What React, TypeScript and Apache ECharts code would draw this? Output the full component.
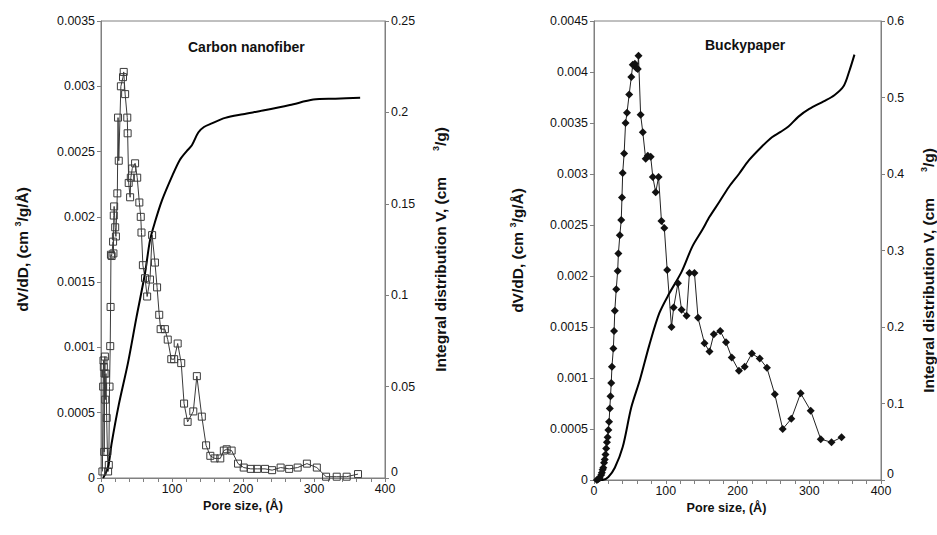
import React, { useEffect, useRef } from "react";
import * as echarts from "echarts";

// Carbon nanofiber: differential pore size distribution dV/dD (cm3/g/Å)
const cnfPore = [2, 3, 3.5, 4, 4.5, 5, 5.5, 6, 7, 8, 9, 10, 11, 12, 13, 13.5, 14, 15, 17, 17.5, 18, 18.5, 20, 21, 23, 24, 25, 28, 31, 32, 34, 37, 37.5, 39, 41, 42, 44, 48, 51, 54, 56, 57, 59, 62, 65, 69, 72, 76, 79, 82, 84, 90, 94, 99, 103, 108, 113, 117, 122, 130, 135, 142, 148, 154, 160, 168, 173, 177, 184, 193, 201, 211, 220, 231, 241, 253, 265, 277, 290, 304, 317, 332, 346, 362];
const cnfDvdd = [0.00005, 0.0007, 0.0009, 0.00085, 0.0002, 0.0008, 0.00093, 0.0006, 0.0008, 0.00046, 0.0002, 0.00005, 0.0001, 0.0007, 0.00101, 0.00131, 0.00171, 0.0017, 0.00181, 0.00172, 0.00201, 0.00208, 0.00192, 0.00185, 0.00218, 0.00276, 0.00243, 0.003, 0.00307, 0.00311, 0.00294, 0.00276, 0.00264, 0.00226, 0.00215, 0.0023, 0.00237, 0.00241, 0.0023, 0.00211, 0.002, 0.00188, 0.00163, 0.00153, 0.00139, 0.00152, 0.00186, 0.00165, 0.00146, 0.00125, 0.00114, 0.00114, 0.00106, 0.00091, 0.00091, 0.00103, 0.00088, 0.00057, 0.00043, 0.00051, 0.00078, 0.00047, 0.00025, 0.00017, 0.00015, 0.00015, 0.00021, 0.00022, 0.00021, 0.00011, 0.00008, 0.00007, 0.00007, 0.00007, 0.00006, 0.00008, 0.00007, 0.00008, 0.00011, 0.00008, 0.00001, 0.00001, 0.00001, 0.00003];
// Carbon nanofiber: integral distribution V (cm3/g)
const cnfIntPore = [3, 10, 15, 25, 38, 50, 62, 69, 76, 86, 100, 111, 121, 128, 137, 145, 156, 175, 200, 228, 266, 299, 330, 365];
const cnfIntV = [0, 0.006, 0.019, 0.04, 0.063, 0.088, 0.112, 0.13, 0.14, 0.152, 0.165, 0.174, 0.179, 0.182, 0.189, 0.192, 0.194, 0.197, 0.199, 0.201, 0.204, 0.207, 0.2075, 0.208];

// Buckypaper: differential pore size distribution dV/dD (cm3/g/Å)
const bpPore = [4, 6, 8, 10, 11, 12, 13, 14, 15, 16, 17, 18, 19, 20, 21, 22, 23, 24, 25, 27, 28, 29, 31, 33, 34, 36, 38, 39, 40, 42, 44, 46, 49, 52, 54, 57, 59, 61, 62, 65, 68, 72, 75, 79, 82, 86, 90, 94, 98, 102, 108, 111, 117, 122, 129, 133, 140, 145, 154, 161, 167, 176, 184, 192, 202, 210, 220, 231, 241, 252, 263, 275, 288, 302, 316, 331, 345];
const bpDvdd = [0, 0.00001, 0.00002, 0.00005, 0.00007, 0.0001, 0.00012, 0.00017, 0.0002, 0.00025, 0.00031, 0.00037, 0.00042, 0.00049, 0.00057, 0.0007, 0.00082, 0.00095, 0.00111, 0.00129, 0.00146, 0.00166, 0.00187, 0.00205, 0.00222, 0.0024, 0.00255, 0.00277, 0.00301, 0.0032, 0.0035, 0.0036, 0.00378, 0.00395, 0.00407, 0.00408, 0.00404, 0.00403, 0.00416, 0.00358, 0.00341, 0.00315, 0.00318, 0.00317, 0.00297, 0.00282, 0.00297, 0.00254, 0.00247, 0.00206, 0.0015, 0.00169, 0.00193, 0.00167, 0.00161, 0.00203, 0.00203, 0.00159, 0.00134, 0.00126, 0.00143, 0.00146, 0.00135, 0.0012, 0.00107, 0.00111, 0.00124, 0.00119, 0.0011, 0.00084, 0.0005, 0.0006, 0.00085, 0.00068, 0.0004, 0.00037, 0.00042];
// Buckypaper: integral distribution V (cm3/g)
const bpIntPore = [5, 12, 20, 29, 40, 52, 64, 77, 91, 105, 122, 137, 151, 161, 175, 188, 202, 216, 232, 248, 260, 271, 285, 300, 320, 335, 348, 356, 363];
const bpIntV = [0, 0, 0.004, 0.016, 0.043, 0.095, 0.131, 0.176, 0.218, 0.244, 0.272, 0.305, 0.327, 0.344, 0.364, 0.383, 0.4, 0.418, 0.434, 0.448, 0.455, 0.462, 0.475, 0.485, 0.495, 0.503, 0.515, 0.535, 0.556];

const chartTitles = ["Carbon nanofiber", "Buckypaper"];
const xName = "Pore size, (Å)";

const zip = (xs: number[], ys: number[]) => xs.map((x, i) => [x, ys[i]]);

const FONT = "'Liberation Sans', Arial, sans-serif";
const AXIS_COLOR = "#808080";
const NAME_SIZE = 15.5;

const boldRich = (size: number) => ({
  b: { fontFamily: FONT, fontWeight: "bold", fontSize: size, color: "#111" },
  s: { fontFamily: FONT, fontWeight: "bold", fontSize: 9, color: "#111", padding: [0, 0, 9, 0] },
});

const fmt = (v: number) => String(+Number(v).toFixed(5));

function makeX(gridIndex: number, pad: number[]) {
  return {
    type: "value",
    gridIndex,
    min: 0,
    max: 400,
    interval: 20,
    name: xName,
    nameLocation: "middle",
    nameGap: 19,
    nameTextStyle: { fontFamily: FONT, fontWeight: "bold", fontSize: 12.6, color: "#111", padding: pad },
    axisLine: { show: true, onZero: false, lineStyle: { color: AXIS_COLOR, width: 1 } },
    axisTick: { show: true, length: 4, lineStyle: { color: AXIS_COLOR } },
    axisLabel: {
      fontFamily: FONT,
      fontSize: 12.4,
      color: "#111",
      margin: 5,
      formatter: (v: number) => (v % 100 === 0 ? String(v) : ""),
    },
    splitLine: { show: false },
  };
}

function makeY(gridIndex: number, position: string, max: number, interval: number, nameRich: string, nameGap: number, pad: number[]) {
  const label: any = { fontFamily: FONT, fontSize: 12.4, color: "#111", margin: 6, formatter: fmt };
  if (position === "right") label.verticalAlignMinLabel = "bottom";
  return {
    type: "value",
    gridIndex,
    position,
    min: 0,
    max,
    interval,
    name: nameRich,
    nameLocation: "middle",
    nameRotate: 90,
    nameGap,
    nameTextStyle: { rich: boldRich(NAME_SIZE), padding: pad },
    axisLine: { show: true, lineStyle: { color: AXIS_COLOR, width: 1 } },
    axisTick: { show: true, length: 4, lineStyle: { color: AXIS_COLOR } },
    axisLabel: label,
    splitLine: { show: false },
  };
}

export default function App() {
  const ref = useRef<HTMLDivElement>(null);
  useEffect(() => {
    document.body.style.margin = "0";
    if (!ref.current) return;
    const chart = echarts.init(ref.current, null, { renderer: "svg" });
    const dvName = "{b|dV/dD, (cm }{s|3}{b|/g/Å)}";
    const intName = "{b|Integral distribution V, (cm      }{s|3}{b|/g)}";
    chart.setOption({
      animation: false,
      backgroundColor: "#ffffff",
      title: [
        { text: chartTitles[0], left: 183, top: 35, textStyle: { fontFamily: FONT, fontWeight: "bold", fontSize: 14, color: "#111" } },
        { text: chartTitles[1], left: 700, top: 33, textStyle: { fontFamily: FONT, fontWeight: "bold", fontSize: 14, color: "#111" } },
      ],
      grid: [
        { left: 101, right: 552, top: 21, bottom: 57, show: true, borderColor: AXIS_COLOR, borderWidth: 1 },
        { left: 594, right: 54, top: 21, bottom: 55, show: true, borderColor: AXIS_COLOR, borderWidth: 1 },
      ],
      xAxis: [makeX(0, [0, 0, 0, 0]), makeX(1, [0, 22, 0, 0])],
      yAxis: [
        makeY(0, "left", 0.0035, 0.0005, dvName, 70, [0, 0, 0, 0]),
        makeY(0, "right", 0.25, 0.05, intName, 46, [0, 0, 0, 0]),
        makeY(1, "left", 0.0045, 0.0005, dvName, 68, [0, 0, 0, 0]),
        makeY(1, "right", 0.6, 0.1, intName, 38, [0, 40, 0, 0]),
      ],
      series: [
        {
          type: "line",
          xAxisIndex: 0,
          yAxisIndex: 0,
          data: zip(cnfPore, cnfDvdd),
          symbol: "rect",
          symbolSize: 7,
          itemStyle: { color: "rgba(255,255,255,0)", borderColor: "#3a3a3a", borderWidth: 1 },
          lineStyle: { color: "#3a3a3a", width: 1 },
        },
        {
          type: "line",
          xAxisIndex: 0,
          yAxisIndex: 1,
          data: zip(cnfIntPore, cnfIntV),
          symbol: "none",
          smooth: 0.3,
          lineStyle: { color: "#000", width: 2 },
        },
        {
          type: "line",
          xAxisIndex: 1,
          yAxisIndex: 2,
          data: zip(bpPore, bpDvdd),
          symbol: "diamond",
          symbolSize: 8,
          itemStyle: { color: "#111" },
          lineStyle: { color: "#222", width: 1 },
        },
        {
          type: "line",
          xAxisIndex: 1,
          yAxisIndex: 3,
          data: zip(bpIntPore, bpIntV),
          symbol: "none",
          smooth: 0.3,
          lineStyle: { color: "#000", width: 2 },
        },
      ],
    });
    return () => chart.dispose();
  }, []);
  return <div ref={ref} style={{ width: 937, height: 535 }} />;
}
